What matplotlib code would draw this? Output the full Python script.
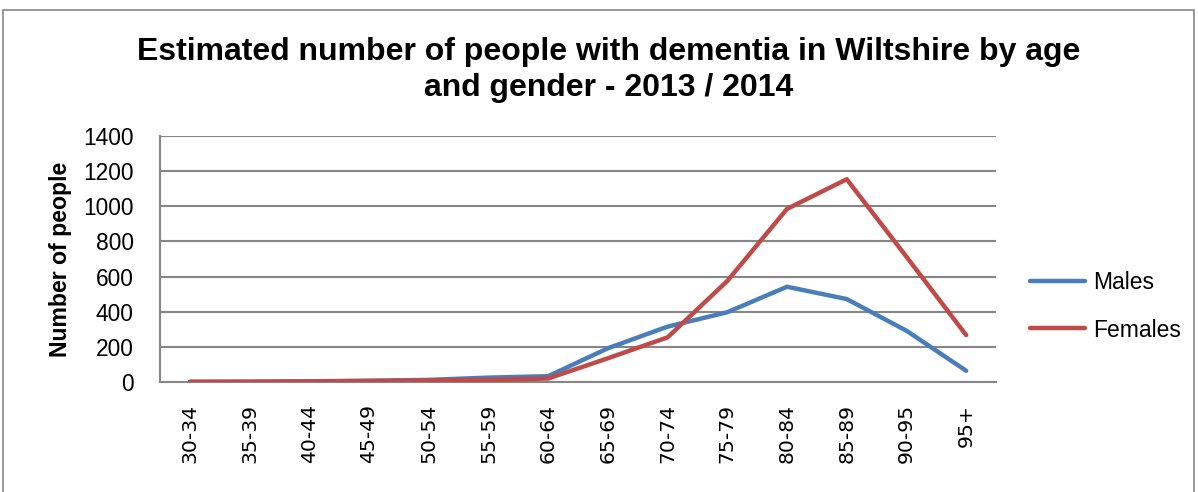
import matplotlib.pyplot as plt
from matplotlib.patches import Rectangle

# Data
age_groups = ["30-34", "35-39", "40-44", "45-49", "50-54", "55-59", "60-64",
              "65-69", "70-74", "75-79", "80-84", "85-89", "90-95", "95+"]
males = [1, 2, 4, 7, 12, 25, 33, 192, 315, 397, 542, 472, 292, 64]
females = [1, 1, 3, 6, 9, 12, 20, 135, 254, 575, 985, 1154, 713, 267]
y_ticks = [0, 200, 400, 600, 800, 1000, 1200, 1400]

BLUE = "#4A7EBB"
RED = "#BE4B48"
GRID = "#868686"

fig = plt.figure(figsize=(11.98, 4.92), dpi=100)
ax = fig.add_axes([160 / 1198, 1 - 382 / 492, 836 / 1198, 246 / 492])

# outer chart border
fig.patches.append(Rectangle((3 / 1198, -0.1), 1191 / 1198, 1.1 - 10 / 492,
                             transform=fig.transFigure, fill=False,
                             edgecolor=GRID, linewidth=1.2))

x = list(range(len(age_groups)))
ax.plot(x, males, color=BLUE, lw=3.2, solid_capstyle="round", label="Males", zorder=3)
ax.plot(x, females, color=RED, lw=3.2, solid_capstyle="round", label="Females", zorder=3)

ax.set_xlim(-0.5, len(age_groups) - 0.5)
ax.set_ylim(0, 1400)
ax.set_yticks(y_ticks)
ax.set_yticklabels([str(v) for v in y_ticks], fontsize=16.4, family="Liberation Sans")
ax.set_xticks(x)
ax.set_xticklabels(age_groups, rotation=90, fontsize=14.7, family="DejaVu Sans")
ax.tick_params(axis="y", length=0, pad=19)
ax.tick_params(axis="x", length=0, pad=16)

ax.yaxis.grid(True, color=GRID, lw=1.5)
ax.set_axisbelow(True)
for s in ["top", "right"]:
    ax.spines[s].set_visible(False)
for s in ["left", "bottom"]:
    ax.spines[s].set_color(GRID)
    ax.spines[s].set_linewidth(1.5)

ax.set_ylabel("Number of people", fontsize=16.6, fontweight="bold",
              family="Liberation Sans")
ax.yaxis.set_label_coords(-0.105, 0.5)

fig.text(0.508, 1 - 70 / 492,
         "Estimated number of people with dementia in Wiltshire by age\nand gender - 2013 / 2014",
         ha="center", va="center", fontsize=23, fontweight="bold",
         family="Liberation Sans", linespacing=1.3)

ax.legend(loc="center left", bbox_to_anchor=(1.0407, 0.307), frameon=False,
          prop={"family": "Liberation Sans", "size": 16.5},
          borderpad=0, borderaxespad=0,
          handlelength=2.4, labelspacing=1.05, handletextpad=0.35)

fig.savefig("out.png", dpi=100)
